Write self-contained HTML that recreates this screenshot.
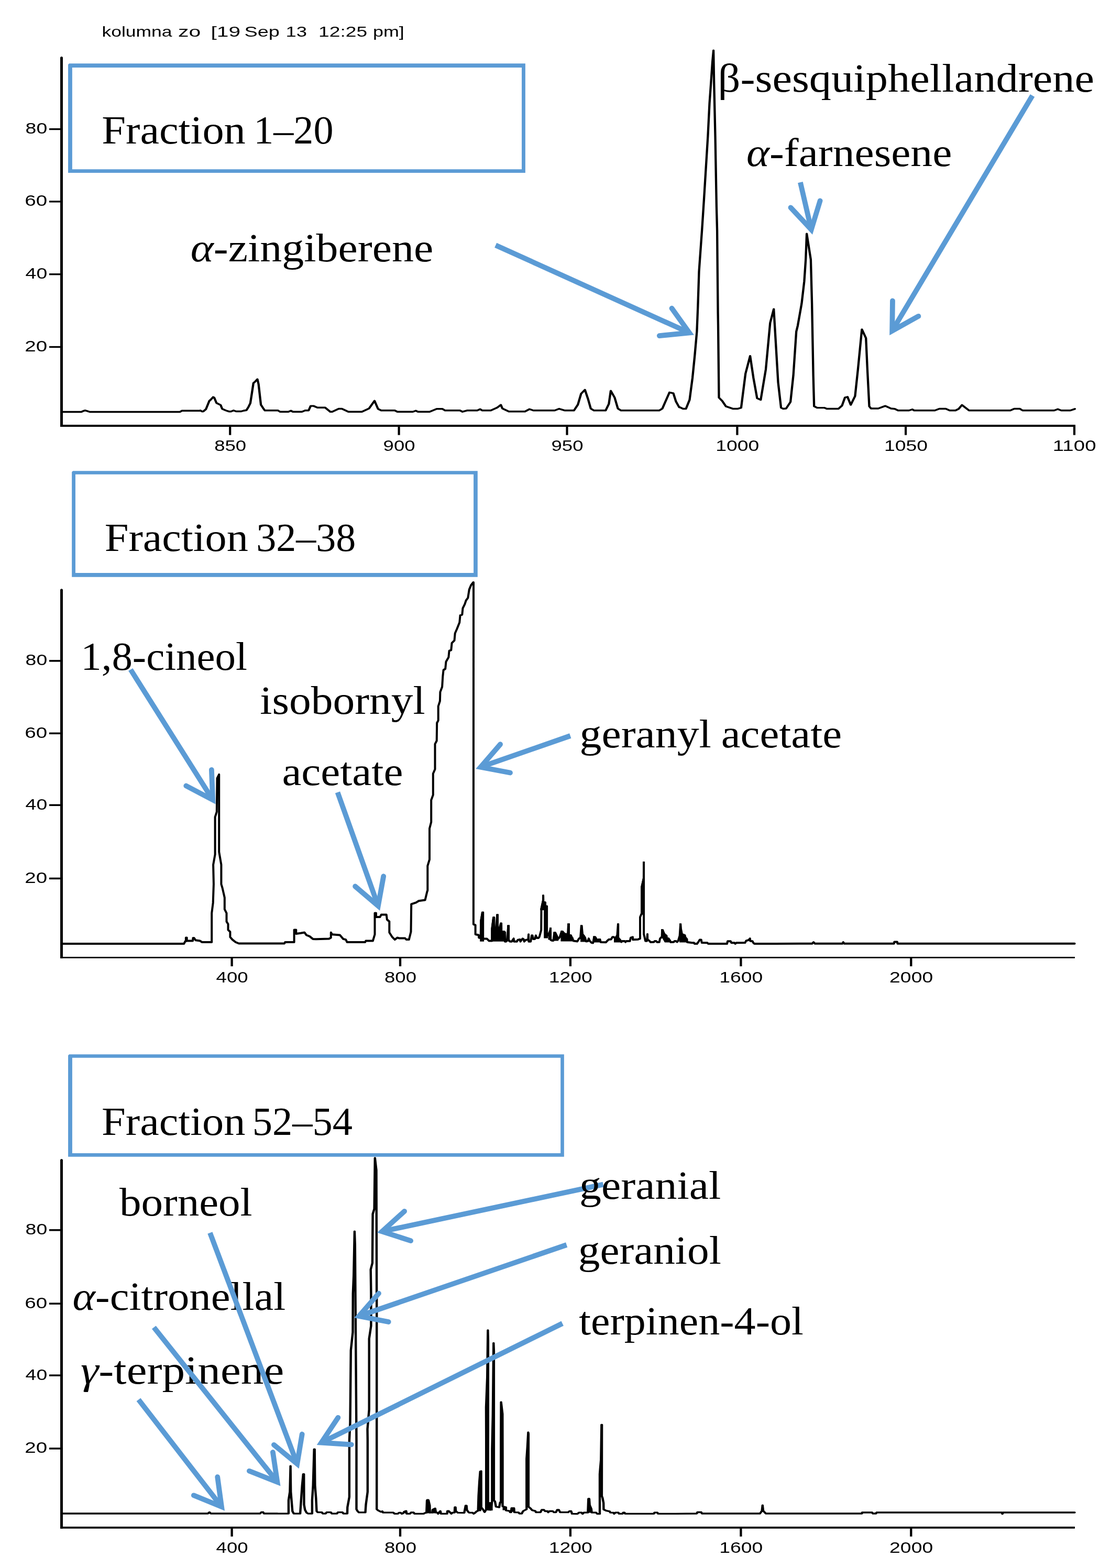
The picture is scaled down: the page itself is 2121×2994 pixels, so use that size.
<!DOCTYPE html>
<html lang="en"><head><meta charset="utf-8"><title>Chromatograms of fractions</title>
<style>html,body{margin:0;padding:0;background:#fff}svg{display:block}text{fill:#000}</style></head><body>
<svg width="2121" height="2994" viewBox="0 0 2121 2994">
<rect width="2121" height="2994" fill="#fff"/>
<text font-family="'Liberation Sans', sans-serif" font-size="28" y="70.3"><tspan x="194.5" textLength="134.0" lengthAdjust="spacingAndGlyphs">kolumna</tspan> <tspan x="340.1" textLength="43.2" lengthAdjust="spacingAndGlyphs">zo</tspan> <tspan x="402.5" textLength="56.5" lengthAdjust="spacingAndGlyphs">[19</tspan> <tspan x="466.4" textLength="67.4" lengthAdjust="spacingAndGlyphs">Sep</tspan> <tspan x="545.4" textLength="40.5" lengthAdjust="spacingAndGlyphs">13</tspan> <tspan x="608.1" textLength="93.1" lengthAdjust="spacingAndGlyphs">12:25</tspan> <tspan x="712.0" textLength="59.8" lengthAdjust="spacingAndGlyphs">pm]</tspan></text>
<g id="p1">
<g transform="scale(1,0.8)"><polyline points="117.7,983.1 155.4,983.1 159.1,980.9 162.8,979.7 166.5,981.2 171.4,983.1 343.8,983.1 347.5,980.3 382.0,980.3 382.3,979.7 385.8,982.1 388.2,981.9 393.2,976.6 399.6,956.9 402.5,953.8 406.9,947.7 408.9,948.9 413.3,961.8 421.2,966.7 424.2,976.0 431.1,979.7 437.0,982.1 440.9,982.1 445.9,979.7 450.8,981.9 460.6,981.9 464.6,980.3 470.5,979.1 474.4,971.1 477.9,962.4 480.8,939.0 483.8,914.4 487.2,910.7 491.4,905.2 493.6,916.9 495.6,939.0 498.1,966.1 502.0,973.5 505.5,979.7 530.0,979.7 530.8,979.7 534.5,982.8 550.5,982.8 555.4,980.3 559.1,982.8 576.4,982.8 582.5,979.7 589.2,979.7 593.1,968.9 598.5,968.9 605.9,972.9 620.7,972.9 630.5,982.8 634.2,982.8 646.6,975.7 652.7,975.7 665.0,982.8 690.9,982.8 704.4,975.1 715.0,956.6 721.7,976.0 727.8,979.7 753.7,979.7 758.6,982.8 788.2,982.8 793.8,980.3 798.0,982.8 820.2,982.8 833.7,976.0 844.8,976.0 849.8,979.7 878.1,979.7 883.0,982.8 891.6,979.7 900.0,979.7 911.1,979.7 916.7,976.6 920.9,979.7 936.9,979.7 949.3,972.9 956.2,966.4 959.1,975.1 971.4,982.1 1002.2,982.1 1010.8,976.6 1018.2,979.7 1058.9,979.7 1067.5,975.7 1078.6,979.7 1095.8,979.7 1103.2,965.8 1109.4,939.7 1116.7,930.4 1122.9,953.5 1127.8,975.1 1134.0,979.7 1156.2,979.7 1162.3,964.3 1166.0,932.9 1173.4,948.9 1179.6,975.1 1185.7,979.7 1258.4,979.7 1264.5,975.1 1278.1,936.6 1285.5,938.7 1290.4,958.1 1296.6,972.0 1297.1,971.5 1304.0,975.7 1309.6,975.7 1316.5,954.2 1322.0,902.2 1326.2,850.3 1330.4,791.4 1332.3,732.5 1334.5,648.1 1340.1,550.0 1342.1,512.0 1344.0,475.0 1351.4,325.0 1354.5,247.1 1357.3,198.1 1360.0,149.0 1362.1,120.4 1363.2,198.1 1364.1,247.1 1365.5,325.0 1367.9,493.8 1369.1,550.0 1369.8,648.1 1370.6,746.2 1371.0,775.0 1372.5,949.0 1378.8,957.0 1385.8,969.8 1399.6,975.7 1407.9,975.7 1414.9,973.3 1423.2,891.9 1432.1,849.6 1438.4,902.2 1445.4,950.7 1452.3,954.2 1462.0,881.5 1470.3,770.6 1477.2,737.7 1481.4,826.0 1485.5,912.6 1491.1,973.3 1495.2,975.7 1500.8,975.0 1509.1,959.4 1514.6,895.3 1520.2,791.4 1522.9,777.6 1530.4,724.8 1535.4,671.5 1538.2,619.6 1540.1,557.9 1547.9,619.6 1550.1,724.8 1552.6,895.3 1554.2,969.8 1560.3,973.3 1574.2,973.3 1578.4,975.7 1600.5,975.7 1607.5,968.1 1613.0,949.0 1618.0,947.3 1624.1,966.3 1632.4,945.5 1637.9,881.5 1645.4,786.2 1653.2,807.0 1655.9,881.5 1659.5,969.8 1662.9,975.0 1676.7,975.0 1689.9,968.9 1700.9,975.1 1708.3,976.0 1714.5,979.7 1735.4,979.7 1741.6,977.2 1745.3,979.7 1784.7,979.7 1793.3,975.7 1805.6,975.7 1813.0,979.7 1824.1,979.7 1830.2,976.0 1836.4,966.7 1850.0,979.7 1928.8,979.7 1936.2,975.7 1947.2,975.7 1952.2,979.7 2012.5,979.7 2019.4,976.6 2026.1,979.7 2043.3,979.7 2051.9,976.0" fill="none" stroke="#000" stroke-width="4.3" stroke-linejoin="round" stroke-linecap="round"/></g>
<line x1="117.5" y1="110.4" x2="117.5" y2="815.05" stroke="#000" stroke-width="5.0"/>
<circle cx="117.5" cy="110.4" r="2.5" fill="#000"/>
<line x1="115.0" y1="813.0" x2="2053.0" y2="813.0" stroke="#000" stroke-width="4.1"/>
<line x1="439.2" y1="813.0" x2="439.2" y2="830.7" stroke="#000" stroke-width="4.2"/>
<text font-family="'Liberation Sans', sans-serif" font-size="30" x="409.2" y="861.0" textLength="61.0" lengthAdjust="spacingAndGlyphs" xml:space="preserve">850</text>
<line x1="761.6" y1="813.0" x2="761.6" y2="830.7" stroke="#000" stroke-width="4.2"/>
<text font-family="'Liberation Sans', sans-serif" font-size="30" x="731.6" y="861.0" textLength="61.0" lengthAdjust="spacingAndGlyphs" xml:space="preserve">900</text>
<line x1="1082.5" y1="813.0" x2="1082.5" y2="830.7" stroke="#000" stroke-width="4.2"/>
<text font-family="'Liberation Sans', sans-serif" font-size="30" x="1052.5" y="861.0" textLength="61.0" lengthAdjust="spacingAndGlyphs" xml:space="preserve">950</text>
<line x1="1407.4" y1="813.0" x2="1407.4" y2="830.7" stroke="#000" stroke-width="4.2"/>
<text font-family="'Liberation Sans', sans-serif" font-size="30" x="1366.2" y="861.0" textLength="83.1" lengthAdjust="spacingAndGlyphs" xml:space="preserve">1000</text>
<line x1="1729.1" y1="813.0" x2="1729.1" y2="830.7" stroke="#000" stroke-width="4.2"/>
<text font-family="'Liberation Sans', sans-serif" font-size="30" x="1687.9" y="861.0" textLength="83.1" lengthAdjust="spacingAndGlyphs" xml:space="preserve">1050</text>
<line x1="2051.0" y1="813.0" x2="2051.0" y2="830.7" stroke="#000" stroke-width="4.2"/>
<text font-family="'Liberation Sans', sans-serif" font-size="30" x="2009.7" y="861.0" textLength="82.9" lengthAdjust="spacingAndGlyphs" xml:space="preserve">1100</text>
<line x1="93.9" y1="246.6" x2="117.5" y2="246.6" stroke="#000" stroke-width="3.3"/>
<text font-family="'Liberation Sans', sans-serif" font-size="30" x="48.6" y="255.0" textLength="41.6" lengthAdjust="spacingAndGlyphs" xml:space="preserve">80</text>
<line x1="93.9" y1="384.9" x2="117.5" y2="384.9" stroke="#000" stroke-width="3.3"/>
<text font-family="'Liberation Sans', sans-serif" font-size="30" x="47.2" y="393.3" textLength="42.9" lengthAdjust="spacingAndGlyphs" xml:space="preserve">60</text>
<line x1="93.9" y1="523.7" x2="117.5" y2="523.7" stroke="#000" stroke-width="3.3"/>
<text font-family="'Liberation Sans', sans-serif" font-size="30" x="48.6" y="532.1" textLength="41.6" lengthAdjust="spacingAndGlyphs" xml:space="preserve">40</text>
<line x1="93.9" y1="662.5" x2="117.5" y2="662.5" stroke="#000" stroke-width="3.3"/>
<text font-family="'Liberation Sans', sans-serif" font-size="30" x="47.2" y="670.9" textLength="42.9" lengthAdjust="spacingAndGlyphs" xml:space="preserve">20</text>
</g>
<g id="p2">
<polyline points="117.7,1802.0 351.2,1802.0 353.7,1797.3 354.9,1797.3 354.9,1790.4 356.7,1790.4 356.7,1796.6 368.0,1796.6 368.5,1790.9 370.4,1790.9 373.4,1795.3 382.0,1796.6 385.7,1799.0 404.2,1799.0 404.2,1743.6 406.7,1723.9 407.9,1688.2 407.1,1651.2 410.6,1631.5 410.6,1560.1 413.8,1550.2 414.5,1486.2 418.2,1478.8 418.2,1626.6 422.4,1651.2 422.4,1688.2 424.6,1695.6 428.8,1714.0 428.8,1736.2 432.5,1743.6 432.5,1759.6 435.5,1764.5 435.5,1775.6 439.4,1779.3 439.4,1789.2 443.6,1794.1 449.8,1799.0 455.9,1801.5 500.0,1801.5 543.1,1801.5 544.3,1799.0 561.6,1799.0 561.6,1775.6 565.3,1775.6 565.3,1783.0 573.9,1781.8 581.3,1780.5 585.0,1785.5 591.1,1787.9 597.3,1792.9 603.4,1793.3 628.1,1792.4 631.8,1790.4 631.8,1780.5 634.2,1784.2 649.0,1785.5 655.2,1792.9 660.1,1794.1 662.6,1799.0 697.0,1799.0 698.3,1796.6 711.8,1796.6 715.5,1784.2 715.5,1743.6 718.0,1743.6 718.0,1751.0 725.4,1751.0 727.8,1746.6 737.7,1746.6 738.9,1755.9 743.3,1759.6 743.3,1780.5 748.8,1789.2 753.7,1794.1 758.6,1790.4 762.3,1791.6 773.4,1791.6 775.9,1794.1 780.8,1794.1 784.5,1779.3 785.2,1726.4 794.3,1723.4 799.3,1720.2 811.6,1718.5 815.3,1703.0 816.3,1700.0 816.3,1653.4 820.0,1641.1 820.0,1582.0 823.2,1569.7 823.2,1527.8 826.8,1517.9 826.8,1477.3 830.5,1468.7 830.5,1420.6 833.7,1414.5 834.2,1380.0 834.2,1380.5 836.7,1375.6 836.7,1348.5 839.9,1338.6 840.4,1321.4 844.1,1311.5 845.3,1291.8 846.6,1279.5 850.2,1277.0 851.5,1263.5 856.4,1254.9 857.6,1242.6 861.3,1241.3 862.6,1227.8 867.5,1222.9 868.7,1209.3 872.4,1200.7 877.3,1188.4 878.6,1174.8 882.3,1173.6 883.5,1161.3 887.2,1153.9 889.7,1146.5 893.3,1141.6 895.8,1125.6 899.5,1116.9 903.4,1112.0 904.0,1112.0 903.9,1764.8 907.6,1766.3 907.6,1784.0 913.7,1785.5 914.2,1790.4 917.7,1790.9 918.2,1758.4 921.1,1742.5 922.1,1742.5 922.1,1792.9 924.6,1792.4 929.5,1792.4 933.4,1796.4 939.3,1796.4 939.3,1773.2 942.1,1752.0 943.3,1752.0 943.3,1783.1 946.2,1784.0 949.2,1747.1 950.0,1747.1 950.0,1773.2 953.1,1773.7 956.1,1763.3 957.1,1763.3 957.3,1778.1 963.0,1779.1 964.0,1780.6 964.0,1797.8 965.9,1797.8 967.9,1794.9 970.4,1768.1 971.1,1768.1 971.1,1794.9 973.8,1797.8 976.8,1797.8 980.7,1792.1 981.2,1797.8 986.6,1797.8 988.6,1794.7 992.5,1794.1 993.5,1797.8 997.5,1792.4 999.4,1793.1 1000.9,1797.8 1003.4,1794.9 1008.3,1794.1 1009.1,1784.2 1009.3,1797.8 1013.2,1797.8 1015.0,1786.2 1016.5,1786.2 1018.0,1793.1 1021.1,1793.1 1022.9,1786.2 1024.9,1791.1 1027.8,1791.1 1029.8,1788.7 1033.2,1775.9 1033.5,1735.5 1036.9,1719.2 1037.1,1710.3 1037.3,1721.2 1040.8,1723.2 1041.1,1729.6 1044.1,1730.5 1044.1,1785.7 1046.5,1785.7 1050.0,1777.8 1051.0,1772.9 1051.2,1794.6 1054.4,1796.1 1056.4,1796.1 1058.3,1781.3 1060.3,1781.3 1064.3,1789.7 1066.2,1792.1 1068.7,1789.2 1072.1,1778.8 1074.1,1779.0 1078.1,1783.3 1081.0,1783.7 1084.0,1783.7 1085.1,1765.0 1085.9,1765.0 1086.1,1785.7 1089.9,1786.2 1092.8,1792.1 1094.8,1796.6 1102.2,1797.5 1105.1,1792.6 1108.1,1790.1 1109.8,1768.0 1110.6,1768.0 1112.0,1783.7 1114.5,1786.7 1117.0,1790.6 1118.9,1797.5 1122.4,1797.0 1123.9,1792.1 1125.8,1796.6 1129.3,1800.0 1132.2,1800.5 1134.2,1789.2 1136.2,1789.2 1139.1,1793.6 1140.6,1795.1 1144.1,1794.1 1145.5,1794.1 1146.8,1799.0 1156.9,1799.3 1158.8,1797.0 1161.8,1794.1 1166.7,1793.6 1169.2,1789.2 1171.7,1789.2 1175.0,1792.1 1175.9,1789.8 1178.4,1785.8 1179.9,1764.9 1180.2,1764.9 1180.2,1790.7 1183.8,1794.7 1186.3,1798.6 1187.7,1797.1 1192.7,1797.1 1194.1,1798.8 1195.6,1797.1 1202.5,1797.1 1204.0,1790.7 1207.9,1789.3 1208.1,1794.2 1218.3,1793.7 1222.0,1792.2 1222.0,1751.3 1225.2,1743.4 1225.4,1693.2 1228.9,1676.9 1229.1,1646.9 1229.1,1783.8 1230.6,1789.8 1232.1,1796.7 1235.0,1796.7 1236.0,1783.8 1236.2,1793.7 1240.0,1796.7 1241.9,1799.1 1248.3,1798.8 1249.8,1797.1 1252.8,1797.1 1254.7,1799.1 1258.7,1798.8 1260.1,1792.2 1263.6,1788.8 1264.1,1776.0 1265.1,1776.0 1267.5,1781.9 1269.5,1784.8 1272.5,1786.8 1273.0,1791.7 1276.4,1792.2 1279.4,1796.7 1280.3,1799.1 1286.3,1798.8 1287.7,1797.1 1290.7,1797.1 1292.7,1798.6 1294.6,1796.7 1297.6,1786.8 1299.1,1764.9 1299.3,1764.9 1300.0,1774.0 1302.0,1783.8 1307.4,1785.8 1308.4,1789.8 1311.4,1793.2 1311.9,1799.1 1320.0,1800.0 1324.9,1800.3 1325.9,1802.0 1330.8,1802.0 1333.8,1797.8 1335.8,1794.4 1338.7,1794.4 1339.7,1800.0 1350.5,1800.3 1352.0,1802.0 1388.0,1802.0 1389.0,1797.3 1394.9,1797.3 1396.4,1800.3 1402.3,1800.3 1403.7,1802.0 1405.7,1800.3 1422.5,1800.0 1424.4,1796.4 1429.4,1794.9 1431.8,1792.1 1432.3,1796.8 1436.7,1797.3 1438.2,1800.3 1440.2,1802.0 1480.0,1802.0 1550.6,1801.7 1553.1,1799.0 1555.6,1801.7 1608.5,1801.7 1609.8,1799.0 1611.7,1801.7 1660.0,1801.7 1660.0,1801.7 1706.8,1801.7 1707.3,1798.5 1713.0,1798.5 1713.4,1801.7 2051.6,1801.7" fill="none" stroke="#000" stroke-width="4.0" stroke-linejoin="round" stroke-linecap="round"/>
<polygon points="916.2,1797.8 916.2,1758.4 919.1,1740.7 924.1,1740.7 924.1,1797.8" fill="#000"/>
<polygon points="937.4,1797.8 937.4,1773.2 940.3,1750.5 944.8,1750.5 945.2,1782.1 947.2,1782.1 947.2,1745.6 951.9,1745.6 951.9,1773.2 953.1,1773.2 954.1,1761.9 959.0,1761.9 959.0,1777.1 963.0,1777.1 965.9,1780.1 965.9,1797.8" fill="#000"/>
<polygon points="968.1,1797.8 968.1,1766.3 973.0,1766.3 973.0,1797.8" fill="#000"/>
<polygon points="1038.2,1791.6 1038.2,1721.2 1042.8,1722.2 1042.8,1729.1 1046.0,1729.6 1046.0,1791.6" fill="#000"/>
<polygon points="1031.3,1737.9 1031.3,1735.5 1035.2,1718.7 1035.2,1708.4 1038.8,1708.4 1038.8,1721.2 1042.8,1722.2 1042.8,1737.9" fill="#000"/>
<polygon points="1046.5,1794.6 1046.5,1783.7 1049.0,1777.8 1049.0,1770.9 1052.9,1770.9 1052.9,1794.6" fill="#000"/>
<polygon points="1056.4,1796.6 1056.4,1779.3 1061.3,1779.3 1064.3,1788.7 1066.2,1790.6 1066.2,1796.6" fill="#000"/>
<polygon points="1070.4,1797.5 1070.4,1777.0 1075.1,1777.0 1078.1,1781.8 1081.0,1782.3 1083.2,1782.3 1083.2,1763.1 1087.9,1763.1 1087.9,1784.2 1090.9,1784.2 1090.9,1790.1 1094.8,1790.1 1094.8,1797.5" fill="#000"/>
<polygon points="1108.1,1798.5 1108.1,1766.0 1112.0,1766.0 1113.5,1783.7 1116.5,1788.7 1118.4,1791.6 1118.9,1798.5" fill="#000"/>
<polygon points="1132.2,1799.5 1132.2,1787.2 1137.2,1788.2 1140.1,1793.6 1142.1,1792.1 1146.8,1792.1 1146.8,1799.5" fill="#000"/>
<polygon points="1223.2,1746.4 1223.2,1693.2 1227.1,1676.5 1227.1,1644.9 1230.9,1644.9 1230.9,1746.4" fill="#000"/>
<polygon points="1269.0,1799.6 1262.1,1787.8 1262.1,1774.0 1266.1,1774.0 1269.5,1782.9 1273.0,1784.8 1273.0,1790.2 1276.9,1790.2 1279.9,1795.2 1279.9,1799.6" fill="#000"/>
<polygon points="1297.1,1799.6 1297.1,1763.0 1301.0,1763.0 1301.0,1773.0 1303.0,1783.8 1307.9,1784.3 1308.9,1788.8 1311.9,1791.7 1311.9,1799.6" fill="#000"/>
<polygon points="1172.0,1799.6 1172.0,1788.8 1173.9,1790.7 1175.9,1787.8 1178.1,1783.8 1178.1,1763.0 1182.0,1763.0 1182.0,1790.7 1186.3,1796.7 1186.3,1799.6" fill="#000"/>
<line x1="117.5" y1="1126.7" x2="117.5" y2="1829.85" stroke="#000" stroke-width="5.0"/>
<circle cx="117.5" cy="1126.7" r="2.5" fill="#000"/>
<line x1="115.0" y1="1828.4" x2="2052.0" y2="1828.4" stroke="#000" stroke-width="2.9"/>
<line x1="442.6" y1="1828.4" x2="442.6" y2="1845.1" stroke="#000" stroke-width="4.3"/>
<text font-family="'Liberation Sans', sans-serif" font-size="30" x="412.6" y="1875.9" textLength="61.0" lengthAdjust="spacingAndGlyphs" xml:space="preserve">400</text>
<line x1="764.0" y1="1828.4" x2="764.0" y2="1845.1" stroke="#000" stroke-width="4.3"/>
<text font-family="'Liberation Sans', sans-serif" font-size="30" x="734.0" y="1875.9" textLength="61.0" lengthAdjust="spacingAndGlyphs" xml:space="preserve">800</text>
<line x1="1088.9" y1="1828.4" x2="1088.9" y2="1845.1" stroke="#000" stroke-width="4.3"/>
<text font-family="'Liberation Sans', sans-serif" font-size="30" x="1047.7" y="1875.9" textLength="83.1" lengthAdjust="spacingAndGlyphs" xml:space="preserve">1200</text>
<line x1="1414.4" y1="1828.4" x2="1414.4" y2="1845.1" stroke="#000" stroke-width="4.3"/>
<text font-family="'Liberation Sans', sans-serif" font-size="30" x="1373.2" y="1875.9" textLength="83.1" lengthAdjust="spacingAndGlyphs" xml:space="preserve">1600</text>
<line x1="1739.3" y1="1828.4" x2="1739.3" y2="1845.1" stroke="#000" stroke-width="4.3"/>
<text font-family="'Liberation Sans', sans-serif" font-size="30" x="1698.1" y="1875.9" textLength="83.1" lengthAdjust="spacingAndGlyphs" xml:space="preserve">2000</text>
<line x1="93.9" y1="1261.9" x2="117.5" y2="1261.9" stroke="#000" stroke-width="3.5"/>
<text font-family="'Liberation Sans', sans-serif" font-size="30" x="48.6" y="1270.3" textLength="41.6" lengthAdjust="spacingAndGlyphs" xml:space="preserve">80</text>
<line x1="93.9" y1="1400.3" x2="117.5" y2="1400.3" stroke="#000" stroke-width="3.5"/>
<text font-family="'Liberation Sans', sans-serif" font-size="30" x="47.2" y="1408.7" textLength="42.9" lengthAdjust="spacingAndGlyphs" xml:space="preserve">60</text>
<line x1="93.9" y1="1537.3" x2="117.5" y2="1537.3" stroke="#000" stroke-width="3.5"/>
<text font-family="'Liberation Sans', sans-serif" font-size="30" x="48.6" y="1545.7" textLength="41.6" lengthAdjust="spacingAndGlyphs" xml:space="preserve">40</text>
<line x1="93.9" y1="1677.4" x2="117.5" y2="1677.4" stroke="#000" stroke-width="3.5"/>
<text font-family="'Liberation Sans', sans-serif" font-size="30" x="47.2" y="1685.8" textLength="42.9" lengthAdjust="spacingAndGlyphs" xml:space="preserve">20</text>
</g>
<g id="p3">
<g transform="scale(1,0.76)"><polyline points="117.7,3802.6 396.8,3802.6 400.0,3799.4 402.5,3802.6 496.6,3802.6 499.0,3799.4 502.5,3799.4 503.7,3802.6 529.6,3802.6 530.0,3802.7 550.9,3802.7 550.9,3769.1 553.4,3748.1 554.6,3683.2 555.2,3748.1 558.3,3796.7 560.8,3802.7 573.1,3802.7 575.0,3765.9 576.8,3731.9 578.9,3703.5 580.2,3703.5 580.5,3780.5 582.3,3793.4 585.4,3800.7 587.9,3802.7 595.9,3802.7 595.9,3769.1 597.7,3731.9 599.7,3641.1 600.7,3641.1 601.4,3731.9 603.3,3764.3 604.5,3796.7 606.4,3799.6 614.4,3799.6 616.2,3802.7 621.7,3802.7 623.6,3799.6 631.6,3799.6 633.4,3802.7 643.3,3802.7 645.1,3799.6 653.8,3799.6 655.6,3802.7 663.0,3802.7 663.3,3786.9 666.9,3761.0 666.9,3618.4 668.5,3573.7 669.8,3392.6 673.5,3347.2 673.8,3250.0 675.2,3205.3 676.9,3093.8 677.8,3127.6 679.5,3428.3 680.5,3618.4 680.5,3791.8 682.7,3796.7 685.2,3799.9 697.5,3799.9 698.5,3780.5 701.8,3748.1 701.8,3618.4 701.5,3590.3 704.7,3541.7 704.7,3363.4 708.4,3331.1 708.4,3250.0 707.7,3189.5 710.9,3173.3 711.6,3050.0 714.6,3037.1 715.8,2909.2 718.5,2939.9 719.2,3276.3 719.2,3644.7 719.2,3791.8 722.1,3795.0 727.0,3798.3 729.9,3796.9 731.1,3800.2 750.8,3800.2 753.3,3803.2 759.4,3803.2 761.9,3800.5 765.0,3800.5 766.8,3803.2 769.3,3802.1 771.7,3798.1 775.4,3796.4 776.4,3803.2 782.8,3803.2 784.7,3800.0 789.6,3800.0 791.4,3803.2 808.7,3803.2 811.1,3801.3 814.2,3800.5 815.1,3769.7 817.9,3768.9 820.4,3782.7 820.7,3800.2 825.3,3800.2 825.9,3793.2 830.8,3790.0 832.1,3799.7 835.1,3800.5 836.4,3803.2 838.8,3798.9 840.7,3796.4 841.9,3803.2 853.6,3803.2 854.2,3796.4 856.7,3796.4 859.8,3800.5 861.6,3803.2 863.5,3800.5 867.8,3800.2 868.4,3786.7 869.6,3786.7 870.2,3796.4 873.9,3800.5 886.3,3800.8 889.0,3782.7 890.6,3782.7 891.4,3794.0 894.3,3798.9 896.1,3800.5 902.3,3800.5 904.1,3803.2 907.2,3800.5 909.7,3797.3 912.7,3795.6 913.6,3758.4 915.2,3722.7 916.8,3696.8 918.0,3696.8 918.5,3696.2 918.7,3786.9 922.2,3792.6 925.2,3799.1 928.2,3792.6 928.2,3618.4 928.0,3535.5 930.2,3460.5 931.4,3342.1 931.9,3368.4 931.8,3618.4 931.8,3774.0 932.3,3792.6 936.9,3793.1 939.4,3772.4 939.4,3641.1 940.8,3557.9 942.3,3374.3 942.9,3394.7 942.9,3618.4 942.9,3769.1 945.0,3772.4 946.8,3785.3 953.0,3786.9 954.8,3774.8 956.3,3774.0 956.3,3618.4 956.6,3522.6 959.3,3552.6 959.5,3656.6 959.5,3784.5 965.9,3786.9 966.1,3795.0 972.7,3796.2 973.9,3799.6 975.7,3799.6 976.6,3789.4 981.3,3789.4 981.9,3799.6 989.9,3799.9 991.7,3802.8 996.1,3802.8 998.5,3796.7 1003.4,3793.1 1005.3,3791.8 1005.3,3665.4 1006.9,3634.6 1008.4,3598.7 1008.9,3602.2 1008.9,3785.3 1013.3,3790.2 1015.8,3794.2 1021.9,3796.2 1023.2,3799.6 1031.8,3799.6 1034.2,3793.4 1038.5,3793.4 1040.4,3796.7 1045.3,3796.7 1046.6,3799.6 1049.0,3796.7 1055.2,3796.7 1057.6,3799.6 1061.3,3799.6 1063.8,3793.4 1066.9,3793.4 1069.3,3799.6 1084.7,3799.6 1087.2,3796.7 1090.3,3796.7 1092.1,3803.2 1100.0,3803.5 1102.3,3803.5 1105.4,3800.2 1110.3,3800.2 1112.2,3803.5 1114.6,3800.2 1122.3,3800.2 1123.3,3765.7 1124.9,3765.7 1125.7,3781.1 1128.8,3790.8 1129.7,3800.2 1138.0,3800.2 1140.5,3803.5 1145.0,3803.5 1145.0,3703.3 1146.0,3687.1 1147.3,3667.7 1148.4,3579.4 1149.1,3579.4 1148.9,3758.4 1150.3,3763.3 1152.2,3776.3 1152.4,3792.5 1157.7,3795.7 1163.9,3797.3 1165.1,3800.2 1171.3,3800.6 1172.5,3803.2 1175.0,3800.2 1180.5,3800.2 1181.7,3803.2 1188.5,3803.2 1189.8,3800.2 1192.2,3800.2 1193.4,3803.2 1248.3,3803.2 1249.5,3800.2 1255.0,3800.2 1256.3,3803.2 1290.0,3803.2 1330.2,3802.6 1331.4,3799.4 1338.8,3799.4 1340.0,3802.6 1450.9,3802.6 1454.6,3795.8 1455.8,3781.9 1457.0,3795.8 1462.0,3802.6 1645.5,3802.6 1646.0,3800.0 1660.0,3800.0 1664.9,3800.0 1666.2,3802.6 1672.3,3802.6 1673.5,3800.0 1912.5,3800.0 1913.7,3803.6 1914.9,3800.0 2051.6,3800.0" fill="none" stroke="#000" stroke-width="4.4" stroke-linejoin="round" stroke-linecap="round"/></g>
<polygon points="814.2,2889.6 814.2,2862.5 818.5,2862.5 821.6,2874.8 821.6,2889.6" fill="#000"/>
<polygon points="825.3,2889.6 825.3,2881.0 830.8,2878.5 832.7,2879.8 832.7,2889.6" fill="#000"/>
<polygon points="769.3,2889.6 769.3,2885.9 774.8,2883.4 776.7,2884.7 776.7,2889.6" fill="#000"/>
<polygon points="912.3,2885.5 912.9,2855.9 914.8,2828.8 916.6,2807.9 920.1,2807.9 920.1,2879.3 918.5,2885.5" fill="#000"/>
<polygon points="930.2,2884.2 930.2,2868.2 940.6,2868.2 940.6,2884.2" fill="#000"/>
<polygon points="975.1,2886.7 975.1,2878.3 982.8,2878.3 982.8,2886.7" fill="#000"/>
<polygon points="959.5,2876.8 965.9,2876.8 965.9,2883.6 959.5,2883.6" fill="#000"/>
<polygon points="1122.3,2888.4 1122.3,2860.1 1126.0,2860.1 1126.0,2873.6 1129.4,2881.0 1129.7,2888.4" fill="#000"/>
<line x1="117.5" y1="2215.5" x2="117.5" y2="2918.75" stroke="#000" stroke-width="5.0"/>
<circle cx="117.5" cy="2215.5" r="2.5" fill="#000"/>
<line x1="115.0" y1="2916.9" x2="2052.0" y2="2916.9" stroke="#000" stroke-width="3.7"/>
<line x1="442.6" y1="2916.9" x2="442.6" y2="2933.9" stroke="#000" stroke-width="4.3"/>
<text font-family="'Liberation Sans', sans-serif" font-size="30" x="412.6" y="2964.6" textLength="61.0" lengthAdjust="spacingAndGlyphs" xml:space="preserve">400</text>
<line x1="764.0" y1="2916.9" x2="764.0" y2="2933.9" stroke="#000" stroke-width="4.3"/>
<text font-family="'Liberation Sans', sans-serif" font-size="30" x="734.0" y="2964.6" textLength="61.0" lengthAdjust="spacingAndGlyphs" xml:space="preserve">800</text>
<line x1="1088.9" y1="2916.9" x2="1088.9" y2="2933.9" stroke="#000" stroke-width="4.3"/>
<text font-family="'Liberation Sans', sans-serif" font-size="30" x="1047.7" y="2964.6" textLength="83.1" lengthAdjust="spacingAndGlyphs" xml:space="preserve">1200</text>
<line x1="1414.4" y1="2916.9" x2="1414.4" y2="2933.9" stroke="#000" stroke-width="4.3"/>
<text font-family="'Liberation Sans', sans-serif" font-size="30" x="1373.2" y="2964.6" textLength="83.1" lengthAdjust="spacingAndGlyphs" xml:space="preserve">1600</text>
<line x1="1739.3" y1="2916.9" x2="1739.3" y2="2933.9" stroke="#000" stroke-width="4.3"/>
<text font-family="'Liberation Sans', sans-serif" font-size="30" x="1698.1" y="2964.6" textLength="83.1" lengthAdjust="spacingAndGlyphs" xml:space="preserve">2000</text>
<line x1="93.9" y1="2348.8" x2="117.5" y2="2348.8" stroke="#000" stroke-width="3.5"/>
<text font-family="'Liberation Sans', sans-serif" font-size="30" x="48.6" y="2357.2" textLength="41.6" lengthAdjust="spacingAndGlyphs" xml:space="preserve">80</text>
<line x1="93.9" y1="2489.2" x2="117.5" y2="2489.2" stroke="#000" stroke-width="3.5"/>
<text font-family="'Liberation Sans', sans-serif" font-size="30" x="47.2" y="2497.6" textLength="42.9" lengthAdjust="spacingAndGlyphs" xml:space="preserve">60</text>
<line x1="93.9" y1="2626.2" x2="117.5" y2="2626.2" stroke="#000" stroke-width="3.5"/>
<text font-family="'Liberation Sans', sans-serif" font-size="30" x="48.6" y="2634.6" textLength="41.6" lengthAdjust="spacingAndGlyphs" xml:space="preserve">40</text>
<line x1="93.9" y1="2765.9" x2="117.5" y2="2765.9" stroke="#000" stroke-width="3.5"/>
<text font-family="'Liberation Sans', sans-serif" font-size="30" x="47.2" y="2774.3" textLength="42.9" lengthAdjust="spacingAndGlyphs" xml:space="preserve">20</text>
</g>
<path fill="#5b9bd5" fill-rule="evenodd" d="M132.05,121.20 H1002.90 V329.90 H130.05 V123.20 Z M137.87,128.90 V323.20 H996.06 V128.90 Z"/>
<path fill="#5b9bd5" fill-rule="evenodd" d="M139.17,899.36 H911.80 V1101.75 H137.17 V901.36 Z M143.97,905.86 V1094.10 H904.10 V905.86 Z"/>
<path fill="#5b9bd5" fill-rule="evenodd" d="M132.07,2013.13 H1076.85 V2208.75 H130.07 V2015.13 Z M137.90,2019.78 V2202.10 H1070.20 V2019.78 Z"/>
<line x1="1151.6" y1="2261.6" x2="729.4" y2="2351.4" stroke="#5b9bd5" stroke-width="9.8"/>
<polyline points="784.1,2369.2 729.4,2351.4 772.1,2312.9" fill="none" stroke="#5b9bd5" stroke-width="9.8" stroke-linecap="round" stroke-linejoin="miter" stroke-miterlimit="10"/>
<text font-family="'Liberation Serif', serif" font-size="77" y="274.1"><tspan x="194.2" textLength="274.6" lengthAdjust="spacingAndGlyphs">Fraction</tspan> <tspan x="484.2" textLength="152.3" lengthAdjust="spacingAndGlyphs">1–20</tspan></text>
<text font-family="'Liberation Serif', serif" font-size="77" x="1370.5" y="174.8" textLength="718.5" lengthAdjust="spacingAndGlyphs" xml:space="preserve">β-sesquiphellandrene</text>
<text font-family="'Liberation Serif', serif" font-size="77" x="1425.1" y="317.0" textLength="392.2" lengthAdjust="spacingAndGlyphs" xml:space="preserve"><tspan font-style="italic">α</tspan>-farnesene</text>
<text font-family="'Liberation Serif', serif" font-size="77" x="363.7" y="499.1" textLength="463.6" lengthAdjust="spacingAndGlyphs" xml:space="preserve"><tspan font-style="italic">α</tspan>-zingiberene</text>
<text font-family="'Liberation Serif', serif" font-size="77" y="1052.2"><tspan x="199.7" textLength="274.1" lengthAdjust="spacingAndGlyphs">Fraction</tspan> <tspan x="489.2" textLength="190.2" lengthAdjust="spacingAndGlyphs">32–38</tspan></text>
<text font-family="'Liberation Serif', serif" font-size="77" x="154.2" y="1279.3" textLength="317.8" lengthAdjust="spacingAndGlyphs" xml:space="preserve">1,8-cineol</text>
<text font-family="'Liberation Serif', serif" font-size="77" x="496.3" y="1363.2" textLength="315.3" lengthAdjust="spacingAndGlyphs" xml:space="preserve">isobornyl</text>
<text font-family="'Liberation Serif', serif" font-size="77" x="538.4" y="1499.4" textLength="231.0" lengthAdjust="spacingAndGlyphs" xml:space="preserve">acetate</text>
<text font-family="'Liberation Serif', serif" font-size="77" y="1426.8"><tspan x="1106.6" textLength="251.3" lengthAdjust="spacingAndGlyphs">geranyl</tspan> <tspan x="1376.7" textLength="230.4" lengthAdjust="spacingAndGlyphs">acetate</tspan></text>
<text font-family="'Liberation Serif', serif" font-size="77" y="2166.5"><tspan x="193.9" textLength="274.5" lengthAdjust="spacingAndGlyphs">Fraction</tspan> <tspan x="481.8" textLength="191.2" lengthAdjust="spacingAndGlyphs">52–54</tspan></text>
<text font-family="'Liberation Serif', serif" font-size="77" x="227.9" y="2321.4" textLength="253.8" lengthAdjust="spacingAndGlyphs" xml:space="preserve">borneol</text>
<text font-family="'Liberation Serif', serif" font-size="77" x="138.6" y="2500.7" textLength="406.7" lengthAdjust="spacingAndGlyphs" xml:space="preserve"><tspan font-style="italic">α</tspan>-citronellal</text>
<text font-family="'Liberation Serif', serif" font-size="77" x="153.9" y="2642.3" textLength="388.3" lengthAdjust="spacingAndGlyphs" xml:space="preserve"><tspan font-style="italic">γ</tspan>-terpinene</text>
<text font-family="'Liberation Serif', serif" font-size="77" x="1106.1" y="2289.3" textLength="270.2" lengthAdjust="spacingAndGlyphs" xml:space="preserve">geranial</text>
<text font-family="'Liberation Serif', serif" font-size="77" x="1103.8" y="2413.1" textLength="273.0" lengthAdjust="spacingAndGlyphs" xml:space="preserve">geraniol</text>
<text font-family="'Liberation Serif', serif" font-size="77" x="1105.2" y="2547.9" textLength="428.7" lengthAdjust="spacingAndGlyphs" xml:space="preserve">terpinen-4-ol</text>
<line x1="946.2" y1="468.3" x2="1316.0" y2="635.4" stroke="#5b9bd5" stroke-width="9.8"/>
<polyline points="1282.5,588.7 1316.0,635.4 1258.8,641.1" fill="none" stroke="#5b9bd5" stroke-width="9.8" stroke-linecap="round" stroke-linejoin="miter" stroke-miterlimit="10"/>
<line x1="1971.0" y1="182.5" x2="1703.2" y2="631.8" stroke="#5b9bd5" stroke-width="9.8"/>
<polyline points="1753.4,603.8 1703.2,631.8 1704.0,574.3" fill="none" stroke="#5b9bd5" stroke-width="9.8" stroke-linecap="round" stroke-linejoin="miter" stroke-miterlimit="10"/>
<line x1="1527.9" y1="348.2" x2="1548.8" y2="438.4" stroke="#5b9bd5" stroke-width="9.8"/>
<polyline points="1565.6,383.4 1548.8,438.4 1509.5,396.4" fill="none" stroke="#5b9bd5" stroke-width="9.8" stroke-linecap="round" stroke-linejoin="miter" stroke-miterlimit="10"/>
<line x1="249.3" y1="1278.5" x2="406.2" y2="1527.3" stroke="#5b9bd5" stroke-width="9.8"/>
<polyline points="403.9,1469.9 406.2,1527.3 355.3,1500.5" fill="none" stroke="#5b9bd5" stroke-width="9.8" stroke-linecap="round" stroke-linejoin="miter" stroke-miterlimit="10"/>
<line x1="644.5" y1="1512.9" x2="721.9" y2="1729.8" stroke="#5b9bd5" stroke-width="9.8"/>
<polyline points="732.2,1673.2 721.9,1729.8 678.1,1692.5" fill="none" stroke="#5b9bd5" stroke-width="9.8" stroke-linecap="round" stroke-linejoin="miter" stroke-miterlimit="10"/>
<line x1="1088.8" y1="1405.0" x2="917.5" y2="1464.7" stroke="#5b9bd5" stroke-width="9.8"/>
<polyline points="974.0,1475.5 917.5,1464.7 955.1,1421.2" fill="none" stroke="#5b9bd5" stroke-width="9.8" stroke-linecap="round" stroke-linejoin="miter" stroke-miterlimit="10"/>
<line x1="400.9" y1="2354.1" x2="567.3" y2="2795.2" stroke="#5b9bd5" stroke-width="9.8"/>
<polyline points="576.7,2738.5 567.3,2795.2 522.9,2758.8" fill="none" stroke="#5b9bd5" stroke-width="9.8" stroke-linecap="round" stroke-linejoin="miter" stroke-miterlimit="10"/>
<line x1="293.8" y1="2534.5" x2="529.4" y2="2829.8" stroke="#5b9bd5" stroke-width="9.8"/>
<polyline points="520.9,2772.9 529.4,2829.8 475.9,2808.8" fill="none" stroke="#5b9bd5" stroke-width="9.8" stroke-linecap="round" stroke-linejoin="miter" stroke-miterlimit="10"/>
<line x1="264.5" y1="2672.5" x2="423.0" y2="2877.1" stroke="#5b9bd5" stroke-width="9.8"/>
<polyline points="415.2,2820.1 423.0,2877.1 369.8,2855.3" fill="none" stroke="#5b9bd5" stroke-width="9.8" stroke-linecap="round" stroke-linejoin="miter" stroke-miterlimit="10"/>
<line x1="1081.7" y1="2377.0" x2="685.3" y2="2513.0" stroke="#5b9bd5" stroke-width="9.8"/>
<polyline points="741.7,2524.0 685.3,2513.0 723.0,2469.6" fill="none" stroke="#5b9bd5" stroke-width="9.8" stroke-linecap="round" stroke-linejoin="miter" stroke-miterlimit="10"/>
<line x1="1073.7" y1="2527.0" x2="613.5" y2="2754.6" stroke="#5b9bd5" stroke-width="9.8"/>
<polyline points="670.8,2758.3 613.5,2754.6 645.4,2706.8" fill="none" stroke="#5b9bd5" stroke-width="9.8" stroke-linecap="round" stroke-linejoin="miter" stroke-miterlimit="10"/>
</svg></body></html>
